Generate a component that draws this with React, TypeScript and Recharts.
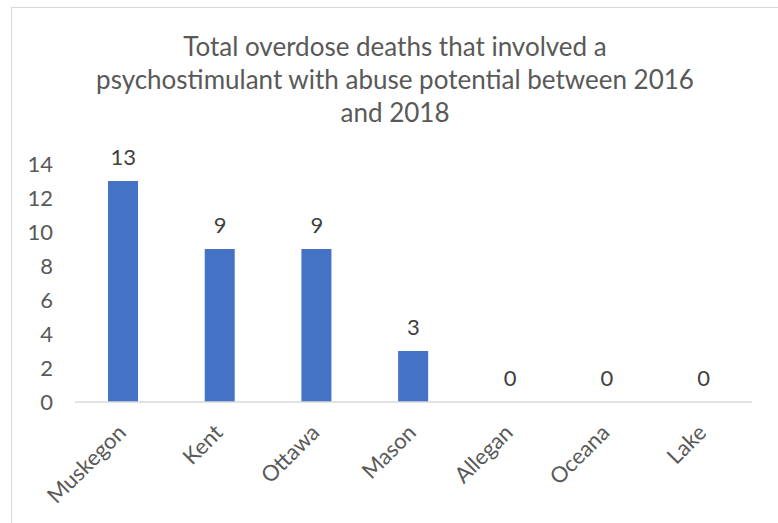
import { Bar, ComposedChart, LabelList, Line, XAxis, YAxis } from 'recharts'

const counties = ['Muskegon', 'Kent', 'Ottawa', 'Mason', 'Allegan', 'Oceana', 'Lake']
const deaths = [13, 9, 9, 3, 0, 0, 0]
const yTicks = [0, 2, 4, 6, 8, 10, 12, 14]
const titleLines = [
  'Total overdose deaths that involved a',
  'psychostimulant with abuse potential between 2016',
  'and 2018',
]

const data = counties.map((county, i) => ({ county, deaths: deaths[i] }))

const font = 'Lato, "Open Sans", sans-serif'

function CountyTick(props: any) {
  const { x, y, payload } = props
  const ax = x + 4
  const ay = y + 32
  return (
    <text
      x={ax}
      y={ay}
      textAnchor="end"
      fill="#595959"
      fontSize={22}
      fontFamily={font}
      transform={`rotate(-45, ${ax}, ${ay})`}
    >
      {payload.value}
    </text>
  )
}

export default function App() {
  return (
    <div style={{ position: 'fixed', left: 0, top: 0, width: 778, height: 523, overflow: 'hidden', background: '#fff' }}>
      <div
        style={{
          position: 'absolute',
          left: 11,
          top: 7,
          width: 800,
          height: 560,
          border: '1px solid #d9d9d9',
        }}
      />
      <div
        style={{
          position: 'absolute',
          left: 11,
          top: 30,
          width: 768,
          textAlign: 'center',
          fontFamily: font,
          fontSize: 26,
          lineHeight: '33px',
          color: '#595959',
        }}
      >
        {titleLines.map((line) => (
          <div key={line}>{line}</div>
        ))}
      </div>
      <div style={{ position: 'absolute', left: 0, top: 0 }}>
        <ComposedChart width={778} height={523} data={data} margin={{ top: 164, right: 26, left: 0, bottom: 0 }}>
          <XAxis
            dataKey="county"
            height={121}
            interval={0}
            tickSize={0}
            tickMargin={0}
            tickLine={false}
            axisLine={{ stroke: '#d9d9d9', strokeWidth: 1.5 }}
            tick={<CountyTick />}
          />
          <YAxis
            width={75}
            domain={[0, 14]}
            ticks={yTicks}
            tickSize={0}
            tickMargin={22}
            tickLine={false}
            axisLine={false}
            tick={{ fill: '#595959', fontSize: 22, fontFamily: font }}
          />
          <Bar dataKey="deaths" fill="#4472C4" barSize={30} isAnimationActive={false} />
          {/* invisible series so value labels also show for zero bars */}
          <Line
            dataKey="deaths"
            stroke="none"
            dot={false}
            activeDot={false}
            legendType="none"
            isAnimationActive={false}
          >
            <LabelList
              dataKey="deaths"
              position="top"
              offset={16}
              fill="#404040"
              fontSize={22}
              fontFamily={font}
            />
          </Line>
        </ComposedChart>
      </div>
    </div>
  )
}
